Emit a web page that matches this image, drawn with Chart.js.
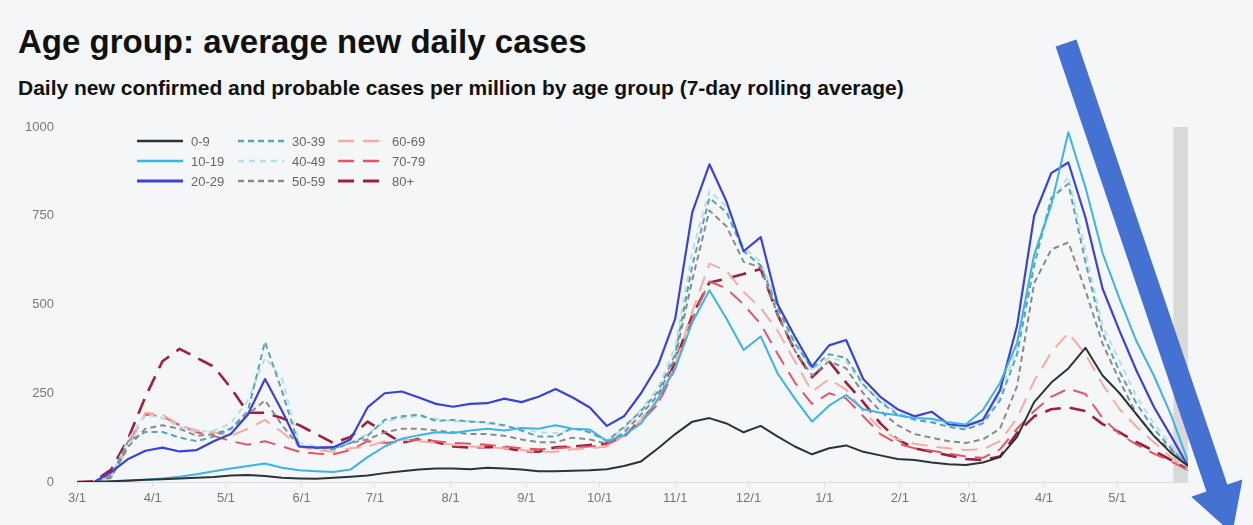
<!DOCTYPE html>
<html>
<head>
<meta charset="utf-8">
<script src="https://cdn.jsdelivr.net/npm/chart.js@4.4.1/dist/chart.umd.min.js"></script>
<style>
html,body{margin:0;padding:0;background:#f5f6f7;}
#wrap{position:relative;width:1253px;height:525px;overflow:hidden;background:#f5f6f7;font-family:"Liberation Sans",Arial,sans-serif;}
#title{position:absolute;left:18px;top:25px;font-size:33px;line-height:1;font-weight:bold;color:#111;white-space:nowrap;}
#sub{position:absolute;left:18px;top:77px;font-size:21px;line-height:1;font-weight:bold;color:#111;white-space:nowrap;}
#c{position:absolute;left:0;top:0;}
</style>
</head>
<body>
<div id="wrap">
  <div id="title">Age group: average new daily cases</div>
  <div id="sub">Daily new confirmed and probable cases per million by age group (7-day rolling average)</div>
  <canvas id="c" width="1253" height="525"></canvas>
</div>
<script>
// Days since 2020-03-01 (weekly samples)
const days = [0,7,14,21,28,35,42,49,56,63,70,77,84,91,98,105,112,119,126,133,140,147,154,161,168,175,182,189,196,203,210,217,224,231,238,245,252,259,266,273,280,287,294,301,308,315,322,329,336,343,350,357,364,371,378,385,392,399,406,413,420,427,434,441,448,455];

// Month-start tick positions (days since 2020-03-01) and labels
const tickDays = [0,31,61,92,122,153,184,214,245,275,306,337,365,396,426];
const tickLabels = ['3/1','4/1','5/1','6/1','7/1','8/1','9/1','10/1','11/1','12/1','1/1','2/1','3/1','4/1','5/1'];
const yTicks = [0,250,500,750,1000];

// Incomplete-data shaded window (days)
const shadeStart = 449, shadeEnd = 455;

const seriesNames = ['0-9','10-19','20-29','30-39','40-49','50-59','60-69','70-79','80+'];

const age0_9   = [0,0,2,4,6,8,10,12,14,18,20,17,12,10,9,12,15,18,25,30,35,38,38,36,40,38,35,30,30,32,33,36,45,58,95,135,170,180,165,140,158,128,100,78,95,103,85,75,65,62,55,50,48,55,70,127,225,280,320,378,300,250,190,130,82,45];
const age10_19 = [0,0,1,3,6,10,15,22,30,38,45,52,40,33,30,28,35,70,100,122,132,140,138,145,150,145,152,150,160,150,148,115,132,165,235,320,450,540,460,372,410,305,235,170,215,245,205,195,188,180,178,168,162,203,279,392,640,780,985,830,645,515,395,300,190,58];
const age20_29 = [0,0,28,65,88,97,86,90,115,135,190,290,200,100,97,98,120,210,250,255,238,220,212,220,222,235,225,240,262,238,210,158,185,250,330,460,760,895,790,650,690,500,410,325,385,400,290,240,205,185,198,162,158,175,258,440,750,870,900,745,545,425,312,212,130,45];
const age30_39 = [0,0,15,115,141,141,125,115,128,150,200,395,255,100,98,92,110,130,175,185,190,172,175,170,168,160,145,128,128,152,140,115,155,200,255,360,610,800,760,650,610,490,390,320,360,350,275,225,190,175,168,155,148,165,230,360,610,800,840,620,420,310,220,150,95,45];
const age40_49 = [0,0,15,120,190,180,155,140,145,165,230,350,290,110,100,95,110,135,170,180,185,178,170,172,165,158,150,140,138,150,142,118,150,205,265,380,650,820,775,660,620,500,395,315,350,340,270,230,195,180,172,160,152,170,245,380,640,790,860,650,440,340,240,165,105,45];
const age50_59 = [0,0,12,100,150,160,150,130,135,150,190,230,160,100,95,95,110,120,140,150,150,145,140,135,135,130,120,112,112,125,120,108,140,190,245,350,570,765,720,620,605,470,370,300,340,320,250,200,160,135,125,115,110,120,150,270,560,655,675,540,390,285,190,130,90,50];
const age60_69 = [0,0,15,100,195,190,160,145,140,130,150,175,140,100,90,85,95,100,115,120,115,110,105,100,98,95,90,85,85,92,95,100,130,175,230,330,480,615,595,535,490,425,340,255,290,260,200,150,120,108,100,95,90,92,115,180,285,365,420,360,275,205,155,112,70,35];
const age70_79 = [0,0,20,110,190,185,160,140,130,115,105,115,100,85,80,78,90,115,110,115,120,115,110,108,105,100,95,92,95,98,100,105,130,170,220,320,460,565,545,500,445,360,280,220,250,235,185,135,108,95,88,80,72,68,92,150,200,240,263,248,180,135,105,80,58,34];
const age80     = [0,2,35,123,240,340,375,350,325,265,195,195,180,160,135,110,127,170,140,110,122,113,100,97,99,96,88,85,98,100,104,108,128,175,225,340,470,562,573,586,600,470,370,295,340,280,225,165,120,95,85,75,65,62,72,138,185,205,210,200,163,140,112,88,62,35];

const seriesValues = [age0_9, age10_19, age20_29, age30_39, age40_49, age50_59, age60_69, age70_79, age80];
const seriesColors = ['#2b3338','#3cb4e6','#3a43d3','#5aa3b3','#b3dfea','#8a8a8a','#f5ad9f','#e2566a','#a01f3a'];
const seriesDash = [[],[],[],[6,4],[6,5],[6,4],[16,9],[16,9],[16,9]];
const seriesWidth = [2,2,2.2,2,2,2,2,2,2.6];

const datasets = seriesNames.map((name, i) => ({
  label: name,
  data: days.map((d, j) => ({x: d, y: seriesValues[i][j]})),
  borderColor: seriesColors[i],
  backgroundColor: seriesColors[i],
  borderDash: seriesDash[i],
  borderWidth: seriesWidth[i],
  pointRadius: 0,
  tension: 0,
  fill: false,
  borderJoinStyle: 'round'
}));

const shadePlugin = {
  id: 'shade',
  beforeDatasetsDraw(chart) {
    const {ctx, scales: {x, y}} = chart;
    const x1 = x.getPixelForValue(shadeStart), x2 = x.getPixelForValue(shadeEnd);
    const yt = y.getPixelForValue(1000), yb = y.getPixelForValue(0);
    ctx.save();
    ctx.fillStyle = '#d9d9d9';
    ctx.fillRect(x1, yt, x2 - x1, yb - yt);
    ctx.restore();
  }
};

const legendPlugin = {
  id: 'gridLegend',
  afterDatasetsDraw(chart) {
    const ctx = chart.ctx;
    const colX = [137, 238, 338];
    const rowY = [141, 161, 181];
    ctx.save();
    ctx.font = '13px "Liberation Sans", Arial, sans-serif';
    ctx.textBaseline = 'middle';
    chart.data.datasets.forEach((ds, i) => {
      const cx = colX[Math.floor(i / 3)], cy = rowY[i % 3];
      ctx.beginPath();
      ctx.strokeStyle = ds.borderColor;
      ctx.lineWidth = ds.borderWidth + 0.6;
      ctx.setLineDash(ds.borderDash);
      ctx.moveTo(cx, cy);
      ctx.lineTo(cx + 46, cy);
      ctx.stroke();
      ctx.setLineDash([]);
      ctx.fillStyle = '#666';
      ctx.fillText(ds.label, cx + 54, cy + 1);
    });
    ctx.restore();
  }
};

const arrowPlugin = {
  id: 'arrow',
  afterDraw(chart) {
    const ctx = chart.ctx;
    const sx = 1066, sy = 43;            // arrow start
    const ux = 0.321, uy = 0.947;        // direction
    const px = uy, py = -ux;             // perpendicular
    const L = 518, head = 48, hw = 11, hh = 27;
    const bx = sx + ux * (L - head), by = sy + uy * (L - head);
    const tx = sx + ux * L, ty = sy + uy * L;
    ctx.save();
    ctx.fillStyle = '#4571d3';
    ctx.beginPath();
    ctx.moveTo(sx + px * hw, sy + py * hw);
    ctx.lineTo(bx + px * hw, by + py * hw);
    ctx.lineTo(bx + px * hh, by + py * hh);
    ctx.lineTo(tx, ty);
    ctx.lineTo(bx - px * hh, by - py * hh);
    ctx.lineTo(bx - px * hw, by - py * hw);
    ctx.lineTo(sx - px * hw, sy - py * hw);
    ctx.closePath();
    ctx.fill();
    ctx.restore();
  }
};

new Chart(document.getElementById('c'), {
  type: 'line',
  data: { datasets },
  options: {
    responsive: false,
    animation: false,
    events: [],
    layout: { padding: { top: 127, right: 65, left: 0, bottom: 0 } },
    plugins: { legend: { display: false }, tooltip: { enabled: false }, title: { display: false } },
    scales: {
      x: {
        type: 'linear',
        min: 0,
        max: 455,
        afterBuildTicks(scale) { scale.ticks = tickDays.map(v => ({ value: v })); },
        afterFit(scale) { scale.height = 43; },
        ticks: {
          autoSkip: false,
          maxRotation: 0,
          padding: 4,
          color: '#777',
          font: { size: 13, family: '"Liberation Sans", Arial, sans-serif' },
          callback: (v) => tickLabels[tickDays.indexOf(v)]
        },
        grid: { display: true, drawOnChartArea: false, drawTicks: true, tickLength: 5, color: '#dddddd' },
        border: { display: true, color: '#dddddd', width: 1 }
      },
      y: {
        min: 0,
        max: 1000,
        afterBuildTicks(scale) { scale.ticks = yTicks.map(v => ({ value: v })); },
        afterFit(scale) { scale.width = 77; },
        ticks: {
          padding: 15,
          color: '#777',
          font: { size: 13, family: '"Liberation Sans", Arial, sans-serif' },
          callback: (v) => String(v)
        },
        grid: { display: false },
        border: { display: false }
      }
    }
  },
  plugins: [shadePlugin, legendPlugin, arrowPlugin]
});
</script>
</body>
</html>
